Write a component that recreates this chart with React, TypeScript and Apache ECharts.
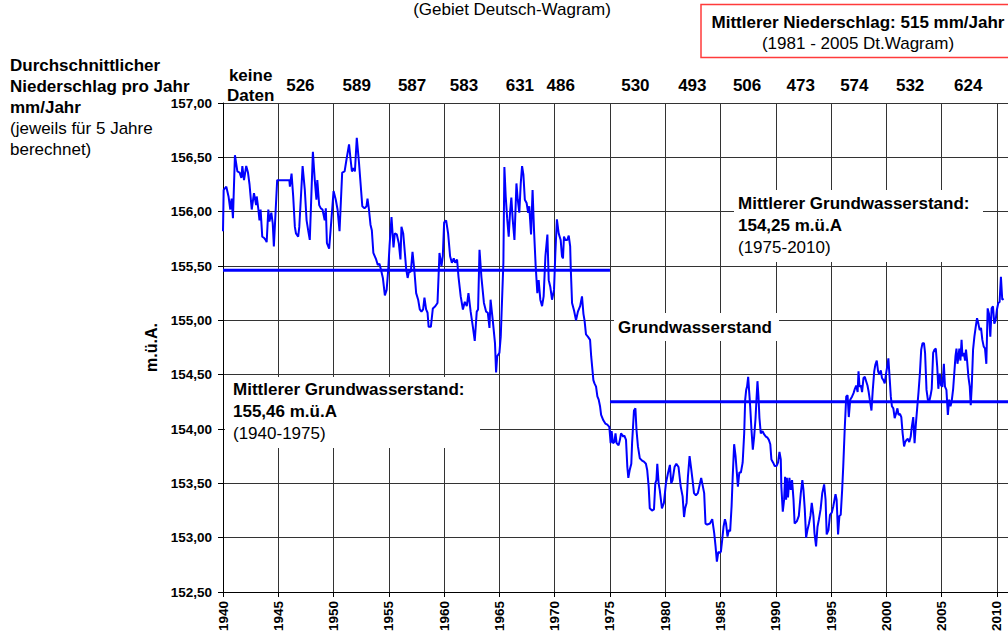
import React, { useEffect, useRef } from "react";
import * as echarts from "echarts";

// Groundwater level (m.ü.A.): decimal year / level
const gwDates: number[] = [
  1940.0, 1940.06, 1940.3, 1940.5, 1940.66, 1940.78, 1940.9, 1941.08, 1941.3, 1941.5, 1941.66, 1941.75, 1941.9,
  1942.1, 1942.26, 1942.4, 1942.6, 1942.8, 1943.0, 1943.05, 1943.2, 1943.3, 1943.4, 1943.55, 1943.7, 1943.85,
  1943.95, 1944.1, 1944.2, 1944.37, 1944.5, 1944.6, 1944.9, 1946.0, 1946.05, 1946.2, 1946.35, 1946.5, 1946.6,
  1946.8, 1946.9, 1947.2, 1947.4, 1947.56, 1947.7, 1947.85, 1948.13, 1948.3, 1948.45, 1948.53, 1948.7, 1948.85,
  1949.0, 1949.2, 1949.3, 1949.4, 1949.6, 1949.8, 1950.0, 1950.2, 1950.36, 1950.54, 1950.78, 1951.0, 1951.17,
  1951.4, 1951.54, 1951.66, 1951.8, 1951.93, 1952.1, 1952.3, 1952.6, 1952.8, 1952.98, 1953.07, 1953.2, 1953.34,
  1953.46, 1953.6, 1953.85, 1954.0, 1954.15, 1954.3, 1954.46, 1954.64, 1954.8, 1954.94, 1955.06,
  1955.24, 1955.42, 1955.54, 1955.72, 1955.9, 1956.05, 1956.14, 1956.3, 1956.45, 1956.57, 1956.7, 1956.8, 1956.99,
  1957.14, 1957.3, 1957.47, 1957.65, 1957.8, 1957.95, 1958.1, 1958.22, 1958.37, 1958.5, 1958.6, 1958.8, 1958.98,
  1959.2, 1959.4, 1959.58, 1959.76, 1959.88, 1960.0, 1960.18, 1960.36, 1960.54, 1960.7, 1960.87, 1961.0, 1961.17,
  1961.3, 1961.5, 1961.7, 1961.87, 1962.05, 1962.2, 1962.4, 1962.6, 1962.77, 1962.95, 1963.07, 1963.2, 1963.37,
  1963.6, 1963.8, 1963.95, 1964.1, 1964.2, 1964.4, 1964.6, 1964.7, 1964.8, 1965.0, 1965.12, 1965.24, 1965.36,
  1965.45, 1965.57, 1965.7, 1965.84, 1965.96, 1966.08, 1966.2, 1966.36, 1966.54, 1966.66, 1966.8, 1966.93,
  1967.05, 1967.17, 1967.3, 1967.46, 1967.6, 1967.7, 1967.86, 1968.0, 1968.13, 1968.28, 1968.43, 1968.55, 1968.7,
  1968.86, 1969.0, 1969.16, 1969.34, 1969.46, 1969.6, 1969.76, 1969.94, 1970.06,
  1970.2, 1970.36, 1970.54, 1970.66, 1970.75, 1970.84, 1970.96, 1971.14, 1971.27, 1971.4, 1971.45, 1971.57,
  1971.75, 1971.93, 1972.1, 1972.3, 1972.47, 1972.6, 1972.7, 1972.83, 1973.0, 1973.2, 1973.3, 1973.5, 1973.6,
  1973.74, 1973.86, 1973.98, 1974.1, 1974.2, 1974.4, 1974.58, 1974.76, 1974.94, 1975.06, 1975.15, 1975.27,
  1975.4, 1975.5, 1975.6, 1975.78, 1975.9, 1976.0, 1976.2, 1976.3, 1976.45, 1976.57, 1976.66, 1976.78, 1976.93,
  1977.0, 1977.17, 1977.3, 1977.4, 1977.53, 1977.7, 1977.9, 1978.07, 1978.25, 1978.37, 1978.5, 1978.6, 1978.8,
  1978.98, 1979.1, 1979.2, 1979.28, 1979.4, 1979.5, 1979.7, 1979.88, 1980.06, 1980.24, 1980.42, 1980.54, 1980.66,
  1980.84, 1981.0, 1981.2, 1981.4, 1981.57, 1981.7, 1981.8, 1981.93, 1982.05, 1982.2, 1982.35, 1982.47, 1982.6,
  1982.77, 1982.95, 1983.25, 1983.52, 1983.64, 1983.8, 1984.04, 1984.25, 1984.43, 1984.55, 1984.67, 1984.8,
  1984.9, 1985.03, 1985.15, 1985.27, 1985.4, 1985.5, 1985.63, 1985.75, 1985.87, 1986.0, 1986.1, 1986.23, 1986.36,
  1986.45, 1986.57, 1986.7, 1986.84, 1987.0, 1987.14, 1987.23, 1987.32, 1987.4, 1987.5, 1987.6, 1987.68, 1987.8,
  1987.92, 1988.04, 1988.16, 1988.25, 1988.34, 1988.43, 1988.52, 1988.64, 1988.8, 1988.95, 1989.1, 1989.25,
  1989.37, 1989.5, 1989.6, 1989.76, 1989.9, 1990.06, 1990.2, 1990.33, 1990.45, 1990.5, 1990.63, 1990.75, 1990.84,
  1990.93, 1991.0, 1991.1, 1991.23, 1991.35, 1991.47, 1991.6, 1991.7, 1991.9, 1992.08, 1992.26, 1992.4, 1992.5,
  1992.62, 1992.74, 1992.86, 1993.0, 1993.13, 1993.25, 1993.4, 1993.5, 1993.64, 1993.77, 1993.9, 1994.05, 1994.2,
  1994.37, 1994.5, 1994.6, 1994.76, 1994.9, 1995.06, 1995.2, 1995.4, 1995.5, 1995.63, 1995.75, 1995.87, 1996.0,
  1996.1, 1996.24, 1996.37, 1996.49, 1996.6, 1996.73, 1996.9, 1997.03, 1997.15, 1997.27, 1997.4, 1997.48,
  1997.57, 1997.7, 1997.8, 1997.93, 1998.05, 1998.17, 1998.29, 1998.4, 1998.5, 1998.65, 1998.77, 1998.9, 1999.0,
  1999.13, 1999.25, 1999.37, 1999.5, 1999.6, 1999.73, 1999.85, 1999.97, 2000.1, 2000.18, 2000.27, 2000.4, 2000.5,
  2000.63, 2000.75, 2000.87, 2001.0, 2001.1, 2001.23, 2001.35, 2001.47, 2001.6, 2001.7, 2001.83, 2001.95, 2002.07,
  2002.2, 2002.3, 2002.43, 2002.55, 2002.67, 2002.8, 2002.9, 2003.03, 2003.15, 2003.27, 2003.4, 2003.5, 2003.63,
  2003.75, 2003.87, 2004.0, 2004.1, 2004.23, 2004.35, 2004.47, 2004.6, 2004.7, 2004.83, 2004.95, 2005.07, 2005.2,
  2005.3, 2005.43, 2005.56, 2005.68, 2005.8, 2005.9, 2006.04, 2006.16, 2006.25, 2006.34, 2006.43, 2006.5, 2006.6,
  2006.7, 2006.8, 2006.88, 2007.0, 2007.12, 2007.2, 2007.3, 2007.42, 2007.54, 2007.63, 2007.72, 2007.84, 2007.96,
  2008.08, 2008.2, 2008.32, 2008.44, 2008.56, 2008.68, 2008.8, 2008.92, 2009.04, 2009.16, 2009.28, 2009.4,
  2009.52, 2009.64, 2009.76, 2009.88, 2010.0, 2010.12, 2010.24, 2010.36, 2010.48, 2010.6,
];

const gwLevels: number[] = [
  155.82, 156.2, 156.23, 156.14, 156.02, 156.12, 155.94, 156.52, 156.37, 156.36, 156.31, 156.42, 156.29,
  156.42, 156.36, 156.25, 156.02, 156.17, 156.06, 156.14, 156.02, 155.92, 156.02, 155.77, 155.76, 155.74,
  155.72, 156.02, 155.91, 155.99, 155.89, 155.68, 156.29, 156.29, 156.23, 156.35, 156.14, 155.86, 155.8,
  155.77, 155.86, 156.42, 156.2, 155.92, 155.83, 155.74, 156.55, 156.29, 156.11, 156.29, 156.06, 156.03,
  156.02, 155.92, 156.03, 155.71, 155.66, 155.92, 156.19, 156.11, 156.02, 155.82, 156.36, 156.37, 156.48,
  156.62, 156.48, 156.37, 156.4, 156.37, 156.68, 156.45, 156.05, 156.03, 156.05, 156.12, 156.02, 155.88,
  155.83, 155.62, 155.56, 155.51, 155.52, 155.46, 155.39, 155.23, 155.28, 155.46, 155.68,
  155.95, 155.67, 155.8, 155.79, 155.71, 155.56, 155.86, 155.8, 155.62, 155.47, 155.39, 155.44, 155.45,
  155.63, 155.47, 155.25, 155.19, 155.1, 155.08, 155.1, 155.21, 155.1, 155.07, 154.94, 154.94, 155.11,
  155.13, 155.16, 155.62, 155.5, 155.59, 155.9, 155.92, 155.8, 155.59, 155.53, 155.57, 155.53, 155.56,
  155.4, 155.22, 155.1, 155.17, 155.13, 155.25, 155.08, 154.94, 154.81, 155.08, 155.1, 155.65, 155.4,
  155.16, 155.08, 155.07, 154.93, 155.19, 155.0, 154.79, 154.52, 154.67, 154.7, 154.85, 155.19, 155.53,
  156.41, 156.14, 155.94, 155.77, 155.99, 156.13, 155.93, 155.74, 156.26, 156.11, 155.99, 156.26,
  156.42, 156.34, 156.11, 156.08, 155.99, 156.05, 155.79, 156.2, 155.83, 155.5, 155.25, 155.37, 155.19,
  155.13, 155.22, 155.59, 155.79, 155.37, 155.31, 155.19, 155.28, 155.62,
  155.93, 155.8, 155.74, 155.59, 155.57, 155.77, 155.74, 155.74, 155.78, 155.68, 155.49, 155.16,
  155.09, 155.0, 155.08, 155.13, 155.22, 155.06, 155.0, 154.87, 154.85, 154.82, 154.67, 154.45, 154.42,
  154.39, 154.3, 154.27, 154.21, 154.13, 154.08, 154.05, 154.04, 154.02, 153.87, 153.98, 153.87,
  153.88, 153.96, 153.87, 153.85, 153.9, 153.96, 153.93, 153.94, 153.9, 153.65, 153.55, 153.62, 153.68,
  153.87, 154.17, 154.19, 153.99, 153.84, 153.73, 153.71, 153.7, 153.68, 153.62, 153.47, 153.27, 153.25,
  153.26, 153.5, 153.53, 153.68, 153.5, 153.44, 153.27, 153.32, 153.5, 153.59, 153.67, 153.5, 153.53,
  153.65, 153.68, 153.65, 153.47, 153.38, 153.19, 153.27, 153.32, 153.56, 153.75, 153.63, 153.53, 153.41,
  153.39, 153.41, 153.55, 153.41, 153.13, 153.12, 153.13, 153.17, 153.04, 152.92, 152.78, 152.87,
  152.86, 152.87, 152.98, 153.1, 153.17, 153.13, 153.01, 153.07, 153.06, 153.29, 153.56, 153.86, 153.75,
  153.63, 153.47, 153.6, 153.6, 153.69, 153.96, 154.27, 154.36, 154.39, 154.48, 154.33, 154.21, 153.99,
  153.81, 153.93, 154.09, 154.27, 154.44, 154.3, 154.1, 153.96, 153.98, 153.95, 153.93, 153.92,
  153.9, 153.86, 153.72, 153.69, 153.66, 153.66, 153.69, 153.79, 153.72, 153.47, 153.24, 153.35, 153.56,
  153.35, 153.55, 153.37, 153.55, 153.44, 153.53, 153.35, 153.13, 153.15, 153.2, 153.41, 153.53, 153.44,
  153.26, 153.0, 153.07, 153.13, 153.2, 153.32, 153.2, 153.04, 152.92, 153.1, 153.17, 153.26, 153.41,
  153.49, 153.35, 153.03, 153.07, 153.21, 153.23, 153.29, 153.4, 153.35, 153.03, 153.2, 153.21, 153.44,
  153.66, 154.02, 154.3, 154.31, 154.11, 154.27, 154.3, 154.33, 154.37, 154.4, 154.34, 154.53,
  154.39, 154.4, 154.34, 154.47, 154.48, 154.44, 154.4, 154.34, 154.27, 154.17, 154.36, 154.53, 154.59,
  154.63, 154.53, 154.5, 154.54, 154.47, 154.45, 154.42, 154.51, 154.59, 154.65, 154.51, 154.3, 154.21,
  154.19, 154.1, 154.14, 154.19, 154.13, 154.14, 154.11, 153.96, 153.84, 153.88, 153.9, 153.91, 153.88,
  153.93, 154.02, 154.11, 153.87, 154.05, 154.21, 154.33, 154.51, 154.73, 154.79, 154.79, 154.7, 154.36,
  154.27, 154.25, 154.31, 154.37, 154.7, 154.73, 154.74, 154.57, 154.37, 154.51, 154.4, 154.39, 154.6,
  154.39, 154.36, 154.13, 154.27, 154.21, 154.25, 154.37, 154.54, 154.67, 154.74, 154.6, 154.65, 154.74,
  154.63, 154.82, 154.67, 154.7, 154.63, 154.73, 154.63, 154.48, 154.39, 154.22, 154.39, 154.73, 154.85,
  154.94, 155.02, 154.97, 154.91, 154.93, 154.82, 154.76, 154.74, 154.6, 155.11, 155.06, 154.85,
  155.11, 155.13, 154.97, 155.0, 155.1, 155.16, 155.17, 155.4, 155.19, 155.2,
];

// Mean groundwater levels per period
const meanStart: number[] = [1940, 1975];
const meanEnd: number[] = [1975, 2011];
const meanLevel: number[] = [155.46, 154.25];

// Average precipitation per 5-year period (mm/Jahr) and the year each label sits over
const precipLabels: string[] = [
  "keine\nDaten", "526", "589", "587", "583", "631", "486", "530", "493", "506", "473", "574", "532", "624",
];
const precipLabelYears: number[] = [
  1942.5, 1947.0, 1952.1, 1957.1, 1961.8, 1966.85, 1970.55, 1977.3, 1982.45, 1987.4, 1992.25, 1997.1, 2002.15, 2007.4,
];

const FONT = "'Liberation Sans', Arial, Helvetica, sans-serif";

function txt(x: number, y: number, text: string, bold: boolean, align: string = "left", size = 17) {
  return {
    type: "text",
    z: 20,
    x,
    y,
    silent: true,
    style: {
      text,
      fill: "#000",
      fontFamily: FONT,
      fontSize: size,
      fontWeight: bold ? "bold" : "normal",
      align,
      verticalAlign: "middle",
      textAlign: align,
      textVerticalAlign: "middle",
    },
  };
}

function whiteRect(x: number, y: number, w: number, h: number) {
  return {
    type: "rect",
    z: 15,
    silent: true,
    shape: { x, y, width: w, height: h },
    style: { fill: "#fff" },
  };
}

export default function App() {
  const ref = useRef<HTMLDivElement>(null);

  useEffect(() => {
    if (!ref.current) return;
    const chart = echarts.init(ref.current, undefined, { renderer: "svg" });

    const gwData = gwDates.map((d, i) => [d, gwLevels[i]]);

    const meanSeries = meanLevel.map((lvl, i) => ({
      type: "line",
      data: [
        [meanStart[i], lvl],
        [meanEnd[i], lvl],
      ],
      symbol: "none",
      silent: true,
      z: 4,
      lineStyle: { color: "#0000ff", width: 3 },
    }));

    const option: any = {
      animation: false,
      backgroundColor: "#fff",
      textStyle: { fontFamily: FONT },
      grid: { left: 223, top: 103, bottom: 43, right: -4, containLabel: false },
      xAxis: {
        type: "value",
        min: 1940,
        max: 2011,
        interval: 5,
        axisLine: { show: true, lineStyle: { color: "#000", width: 1 } },
        axisTick: { show: true, length: 5, lineStyle: { color: "#000" } },
        axisLabel: {
          rotate: 90,
          margin: 9,
          color: "#000",
          fontWeight: "bold",
          fontSize: 13.5,
          fontFamily: FONT,
          showMaxLabel: false,
          formatter: (v: number) => (Math.abs(v % 5) < 1e-6 ? String(v) : ""),
        },
        splitLine: { show: true, lineStyle: { color: "#333", width: 1 } },
      },
      yAxis: {
        type: "value",
        min: 152.5,
        max: 157,
        interval: 0.5,
        name: "m.ü.A.",
        nameLocation: "middle",
        nameGap: 60,
        nameRotate: 90,
        nameTextStyle: { color: "#000", fontWeight: "bold", fontSize: 16, fontFamily: FONT },
        axisLine: { show: true, lineStyle: { color: "#000", width: 1 } },
        axisTick: { show: true, length: 5, lineStyle: { color: "#000" } },
        axisLabel: {
          margin: 11,
          color: "#000",
          fontWeight: "bold",
          fontSize: 13.5,
          fontFamily: FONT,
          formatter: (v: number) => v.toFixed(2).replace(".", ","),
        },
        splitLine: { show: true, lineStyle: { color: "#333", width: 1 } },
      },
      series: [
        {
          type: "line",
          data: gwData,
          symbol: "none",
          silent: true,
          z: 5,
          lineStyle: { color: "#0000ff", width: 2 },
        },
        ...meanSeries,
        {
          type: "scatter",
          silent: true,
          symbolSize: 0,
          clip: false,
          z: 6,
          itemStyle: { color: "#000", opacity: 1 },
          data: precipLabelYears.map((x, i) => ({
            value: [x, 157],
            label: { formatter: precipLabels[i] },
          })),
          label: {
            show: true,
            position: "inside",
            offset: [0, -18],
            color: "#000",
            opacity: 1,
            textBorderWidth: 0,
            fontWeight: "bold",
            fontSize: 17,
            lineHeight: 20,
            fontFamily: FONT,
          },
        },
      ],
      graphic: [
        // title at the top edge
        txt(512, 9, "(Gebiet Deutsch-Wagram)", false, "center"),
        // red info box
        {
          type: "rect",
          z: 15,
          silent: true,
          shape: { x: 701, y: 4.5, width: 330, height: 53 },
          style: { fill: "#fff", stroke: "#ff3b3b", lineWidth: 1.5 },
        },
        txt(858, 22, "Mittlerer Niederschlag: 515 mm/Jahr", true, "center"),
        txt(858, 43, "(1981 - 2005 Dt.Wagram)", false, "center"),
        // left explanation
        txt(10, 65, "Durchschnittlicher", true),
        txt(10, 86, "Niederschlag pro Jahr", true),
        txt(10, 107, "mm/Jahr", true),
        txt(10, 128, "(jeweils für 5 Jahre", false),
        txt(10, 149, "berechnet)", false),
        // mean 1940-1975 box
        whiteRect(225, 377, 255, 71),
        txt(233, 389, "Mittlerer Grundwasserstand:", true),
        txt(233, 411, "155,46 m.ü.A", true),
        txt(233, 433, "(1940-1975)", false),
        // mean 1975-2010 box
        whiteRect(734, 190, 249, 72),
        txt(738, 203, "Mittlerer Grundwasserstand:", true),
        txt(738, 225, "154,25 m.ü.A", true),
        txt(738, 247, "(1975-2010)", false),
        // series label
        whiteRect(614, 313, 165, 28),
        txt(618, 327, "Grundwasserstand", true),
      ],
    };

    chart.setOption(option);
    return () => chart.dispose();
  }, []);

  return (
    <div
      ref={ref}
      style={{ position: "absolute", left: 0, top: 0, width: 1008, height: 635, background: "#fff" }}
    />
  );
}
